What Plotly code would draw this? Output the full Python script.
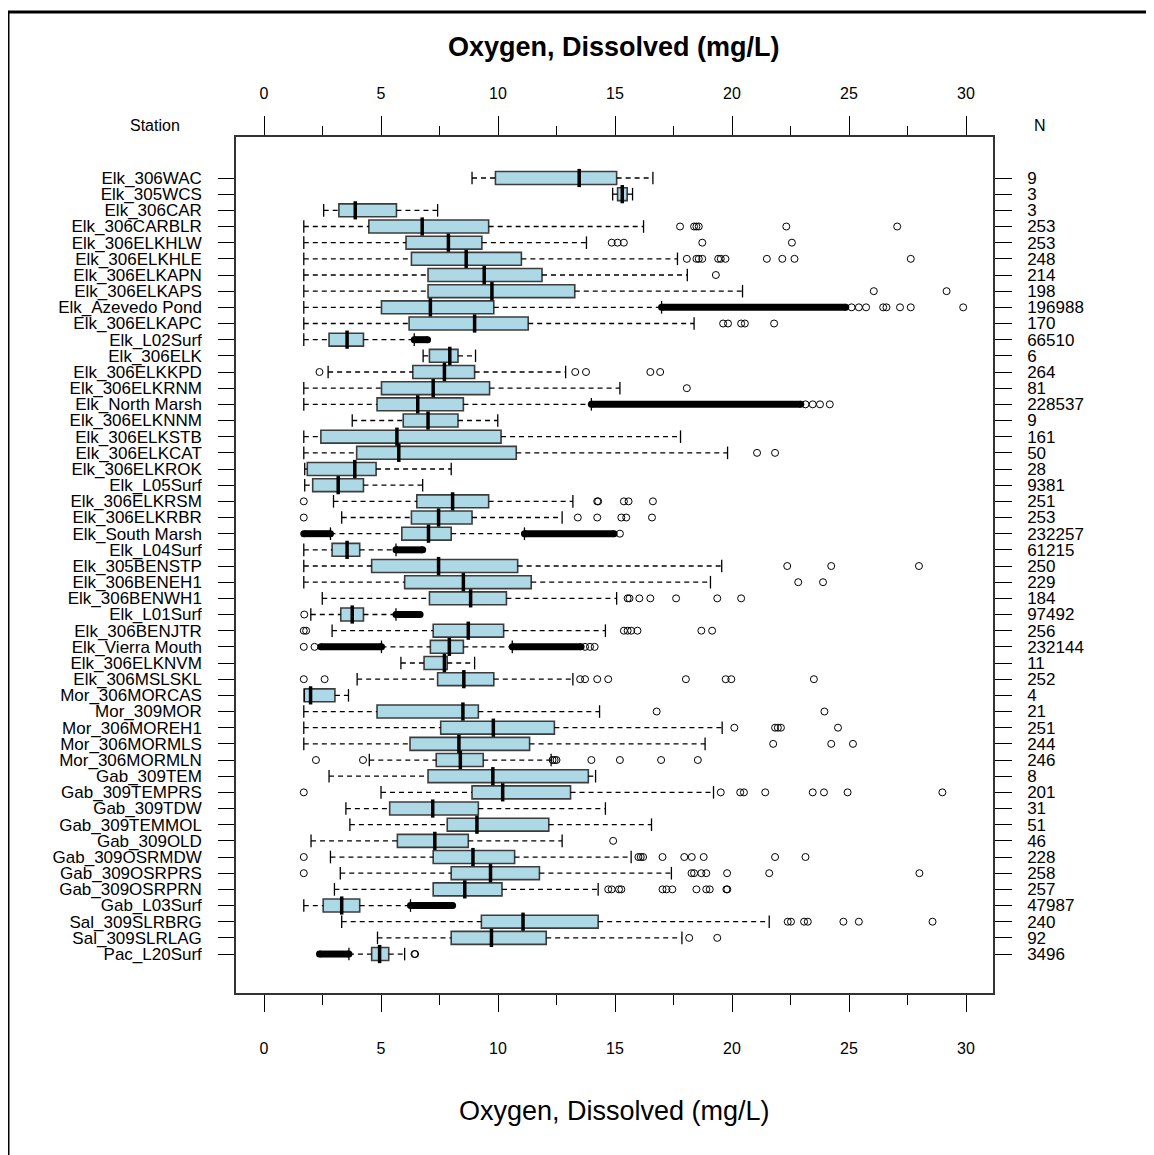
import plotly.graph_objects as go

# ---------------- data ----------------
stations = [
    "Elk_306WAC", "Elk_305WCS", "Elk_306CAR", "Elk_306CARBLR", "Elk_306ELKHLW",
    "Elk_306ELKHLE", "Elk_306ELKAPN", "Elk_306ELKAPS", "Elk_Azevedo Pond", "Elk_306ELKAPC",
    "Elk_L02Surf", "Elk_306ELK", "Elk_306ELKKPD", "Elk_306ELKRNM", "Elk_North Marsh",
    "Elk_306ELKNNM", "Elk_306ELKSTB", "Elk_306ELKCAT", "Elk_306ELKROK", "Elk_L05Surf",
    "Elk_306ELKRSM", "Elk_306ELKRBR", "Elk_South Marsh", "Elk_L04Surf", "Elk_305BENSTP",
    "Elk_306BENEH1", "Elk_306BENWH1", "Elk_L01Surf", "Elk_306BENJTR", "Elk_Vierra Mouth",
    "Elk_306ELKNVM", "Elk_306MSLSKL", "Mor_306MORCAS", "Mor_309MOR", "Mor_306MOREH1",
    "Mor_306MORMLS", "Mor_306MORMLN", "Gab_309TEM", "Gab_309TEMPRS", "Gab_309TDW",
    "Gab_309TEMMOL", "Gab_309OLD", "Gab_309OSRMDW", "Gab_309OSRPRS", "Gab_309OSRPRN",
    "Gab_L03Surf", "Sal_309SLRBRG", "Sal_309SLRLAG", "Pac_L20Surf",
]

n_obs = [9, 3, 3, 253, 253, 248, 214, 198, 196988, 170,
         66510, 6, 264, 81, 228537, 9, 161, 50, 28, 9381,
         251, 253, 232257, 61215, 250, 229, 184, 97492, 256, 232144,
         11, 252, 4, 21, 251, 244, 246, 8, 201, 31,
         51, 46, 228, 258, 257, 47987, 240, 92, 3496]

lower_whisker = [8.89, 14.90, 2.55, 1.70, 1.70, 1.70, 1.70, 1.70, 1.70, 1.70,
                 1.70, 6.80, 2.74, 1.70, 1.70, 3.77, 1.70, 1.70, 1.74, 1.74,
                 2.97, 3.32, 2.84, 1.70, 1.70, 1.70, 2.49, 2.00, 2.91, 5.02,
                 5.85, 3.98, 1.72, 1.70, 1.70, 1.70, 4.50, 2.78, 5.00, 3.50,
                 3.67, 2.01, 2.84, 3.26, 3.01, 1.70, 3.32, 4.85, 3.63]

q1 = [9.89, 15.11, 3.20, 4.48, 6.07, 6.30, 7.01, 7.01, 5.02, 6.20,
      2.78, 7.07, 6.36, 5.02, 4.83, 5.95, 2.43, 3.96, 1.85, 2.08,
      6.53, 6.30, 5.89, 2.91, 4.60, 6.01, 7.07, 3.28, 7.23, 7.11,
      6.84, 7.42, 1.72, 4.83, 7.55, 6.24, 7.36, 7.01, 8.89, 5.37,
      7.83, 5.70, 7.23, 8.00, 7.23, 2.53, 9.29, 8.00, 4.60]

median = [13.47, 15.31, 3.90, 6.76, 7.88, 8.64, 9.41, 9.74, 7.11, 9.00,
          3.55, 7.94, 7.71, 7.23, 6.57, 7.01, 5.68, 5.76, 3.88, 3.17,
          8.06, 7.46, 7.03, 3.55, 7.46, 8.52, 8.83, 3.77, 8.73, 7.92,
          7.71, 8.54, 1.99, 8.50, 9.80, 8.33, 8.39, 9.78, 10.20, 7.21,
          9.10, 7.30, 8.93, 9.68, 8.58, 3.32, 11.07, 9.72, 4.94]

q3 = [15.07, 15.52, 5.66, 9.60, 9.31, 11.00, 11.88, 13.28, 9.82, 11.29,
      4.25, 8.29, 9.00, 9.64, 8.52, 8.29, 10.13, 10.78, 4.79, 4.25,
      9.60, 8.89, 8.00, 4.09, 10.84, 11.42, 10.36, 4.25, 10.24, 8.52,
      7.83, 9.82, 3.03, 9.16, 12.41, 11.35, 9.37, 13.86, 13.10, 9.16,
      12.17, 8.73, 10.71, 11.77, 10.17, 4.09, 14.28, 12.06, 5.33]

upper_whisker = [16.62, 15.75, 7.42, 16.22, 13.78, 17.67, 18.09, 20.45, 16.99, 18.38,
                 6.42, 9.04, 12.89, 15.21, 13.99, 9.99, 17.80, 19.81, 8.00, 6.78,
                 13.20, 12.74, 11.13, 5.64, 19.56, 19.08, 15.07, 5.64, 14.59, 10.61,
                 9.00, 13.20, 3.61, 14.34, 19.58, 18.85, 12.27, 14.17, 19.21, 14.59,
                 16.56, 12.74, 15.69, 17.41, 14.28, 6.26, 21.59, 17.86, 6.01]

# individual outliers, one list per station (same order as stations)
outliers = [
    [], [], [],
    [17.78, 18.38, 18.48, 18.58, 22.32, 27.06],
    [14.86, 15.11, 15.38, 18.73, 22.56],
    [18.07, 18.48, 18.58, 18.73, 19.41, 19.52, 19.72, 21.49, 22.15, 22.67, 27.64],
    [19.31],
    [26.06, 29.17],
    [25.11, 25.42, 25.73, 26.46, 26.60, 27.18, 27.64, 29.88],
    [19.62, 19.83, 20.39, 20.55, 21.80],
    [],
    [],
    [2.37, 13.30, 13.76, 16.51, 16.93],
    [18.07],
    [23.14, 23.45, 23.76, 24.18],
    [],
    [],
    [21.07, 21.84],
    [],
    [],
    [1.70, 14.24, 14.28, 15.38, 15.58, 16.62],
    [1.70, 13.41, 14.24, 15.27, 15.48, 16.58],
    [15.21],
    [],
    [22.36, 24.24, 27.99],
    [22.83, 23.89],
    [15.54, 15.62, 16.04, 16.51, 17.61, 19.37, 20.39],
    [1.72],
    [1.70, 1.80, 15.38, 15.54, 15.69, 15.96, 18.69, 19.15],
    [1.70, 2.16, 13.72, 13.93, 14.13],
    [],
    [1.70, 2.59, 13.51, 13.72, 14.24, 14.71, 18.03, 19.73, 19.97, 23.50],
    [],
    [16.78, 23.95],
    [20.10, 21.84, 21.96, 22.09, 24.53],
    [21.76, 24.24, 25.17],
    [2.22, 4.23, 12.33, 12.42, 12.50, 13.99, 15.21, 16.97, 18.54],
    [],
    [1.70, 19.52, 20.35, 20.51, 21.42, 23.45, 23.93, 24.94, 28.99],
    [],
    [],
    [14.92],
    [1.70, 16.00, 16.10, 16.20, 17.03, 17.96, 18.28, 18.79, 21.84, 23.14],
    [1.70, 18.27, 18.38, 18.69, 18.90, 19.79, 21.59, 28.01],
    [14.71, 14.86, 15.17, 15.27, 17.03, 17.20, 17.45, 18.48, 18.90, 19.05, 19.76, 19.80],
    [],
    [22.38, 22.52, 23.08, 23.24, 24.76, 25.42, 28.57],
    [18.17, 19.37],
    [6.43, 6.46],
]

# ranges so densely packed with outliers that they read as a solid band
dense_bands = [
    [], [], [], [], [], [], [], [],
    [(16.99, 24.86)],
    [],
    [(6.42, 6.99)],
    [], [], [],
    [(13.99, 22.94)],
    [], [], [], [], [], [], [],
    [(1.70, 2.84), (11.13, 14.96)],
    [(5.64, 6.78)],
    [], [], [],
    [(5.64, 6.67)],
    [],
    [(2.43, 5.02), (10.61, 13.55)],
    [], [], [], [], [], [], [], [], [], [], [], [], [], [], [],
    [(6.26, 8.06)],
    [], [],
    [(2.37, 3.63)],
]

x_ticks = [0, 5, 10, 15, 20, 25, 30]
minor_ticks = [2.5, 7.5, 12.5, 17.5, 22.5, 27.5]
title_text = "Oxygen, Dissolved (mg/L)"

# ---------------- figure ----------------
W, H = 1154, 1155
OFF = 8  # page body margin offset
FONT = "Liberation Sans, Arial, Helvetica, sans-serif"
pos = list(range(len(stations)))


def px(xp):
    return (xp - OFF) / W


def py(yp):
    return 1 - (yp - OFF) / H


# plot area in (target) pixels
PX_L, PX_R, PX_T, PX_B = 236, 993, 137, 993
x_range = [-1.197, 31.154]
y_range = [50.41, -2.536]

fig = go.Figure()

# dashed whiskers
wx, wy = [], []
for i in pos:
    wx += [lower_whisker[i], q1[i], None, q3[i], upper_whisker[i], None]
    wy += [i, i, None, i, i, None]
fig.add_trace(go.Scatter(x=wx, y=wy, mode="lines",
                         line=dict(color="black", width=1.3, dash="5px,4px"),
                         hoverinfo="skip", showlegend=False))

# whisker caps
fig.add_trace(go.Scatter(x=lower_whisker + upper_whisker, y=pos + pos, mode="markers",
                         marker=dict(symbol="line-ns", size=9,
                                     line=dict(color="black", width=1.3)),
                         hoverinfo="skip", showlegend=False))

# boxes
fig.add_trace(go.Box(y=pos, q1=q1, median=median, q3=q3,
                     lowerfence=q1, upperfence=q3,
                     orientation="h", width=0.8, whiskerwidth=0,
                     fillcolor="#ADD8E6", line=dict(color="#3c3c3c", width=1.6),
                     boxpoints=False, hoverinfo="skip", showlegend=False))

# medians
fig.add_trace(go.Scatter(x=median, y=pos, mode="markers",
                         marker=dict(symbol="line-ns", size=13,
                                     line=dict(color="black", width=3.5)),
                         hoverinfo="skip", showlegend=False))

# dense outlier bands
bx, by, ex, ey = [], [], [], []
for i in pos:
    for (a, b) in dense_bands[i]:
        bx += [a, b, None]
        by += [i, i, None]
        ex += [a, b]
        ey += [i, i]
fig.add_trace(go.Scatter(x=bx, y=by, mode="lines",
                         line=dict(color="black", width=7),
                         hoverinfo="skip", showlegend=False))
fig.add_trace(go.Scatter(x=ex, y=ey, mode="markers",
                         marker=dict(symbol="circle", size=7, color="black"),
                         hoverinfo="skip", showlegend=False))

# individual outliers
ox, oy = [], []
for i in pos:
    for v in outliers[i]:
        ox.append(v)
        oy.append(i)
fig.add_trace(go.Scatter(x=ox, y=oy, mode="markers",
                         marker=dict(symbol="circle-open", size=7, color="black",
                                     line=dict(color="black", width=1)),
                         hoverinfo="skip", showlegend=False))

# dummy trace for secondary axes
fig.add_trace(go.Scatter(x=[None], y=[None], xaxis="x2", yaxis="y2",
                         showlegend=False, hoverinfo="skip"))

xdom = [px(PX_L), px(PX_R)]
ydom = [py(PX_B), py(PX_T)]

common_x = dict(range=x_range, tickmode="array", tickvals=x_ticks,
                ticktext=[str(t) for t in x_ticks],
                ticks="outside", tickwidth=1, tickcolor="black",
                showline=True, linecolor="#333333", linewidth=1.5,
                showgrid=False, zeroline=False, fixedrange=True,
                tickfont=dict(family=FONT, size=16, color="black"))

fig.update_layout(
    width=W, height=H, autosize=False,
    margin=dict(l=0, r=0, t=0, b=0, pad=0),
    paper_bgcolor="white", plot_bgcolor="white",
    showlegend=False,
    font=dict(family=FONT, size=16, color="black"),
    xaxis=dict(domain=xdom, anchor="y", side="bottom", ticklen=17,
               ticklabelstandoff=23,
               minor=dict(ticks="outside", ticklen=10, tickmode="array",
                          tickvals=minor_ticks,
                          tickcolor="black", tickwidth=1, showgrid=False),
               **common_x),
    xaxis2=dict(domain=xdom, anchor="y", overlaying="x", side="top", ticklen=19,
                ticklabelstandoff=11,
                minor=dict(ticks="outside", ticklen=9, tickmode="array",
                           tickvals=minor_ticks,
                           tickcolor="black", tickwidth=1, showgrid=False),
                **common_x),
    yaxis=dict(domain=ydom, anchor="x", range=y_range, tickmode="array",
               tickvals=pos, ticktext=stations, ticks="outside", ticklen=16,
               tickwidth=1, tickcolor="black", ticklabelstandoff=13,
               showline=True, linecolor="#333333", linewidth=1.5,
               showgrid=False, zeroline=False, fixedrange=True,
               tickfont=dict(family=FONT, size=17, color="black")),
    yaxis2=dict(domain=ydom, anchor="x", overlaying="y", side="right",
                range=y_range, tickmode="array", tickvals=pos,
                ticktext=[str(n) for n in n_obs], ticks="outside", ticklen=17,
                tickwidth=1, tickcolor="black", ticklabelstandoff=12,
                showline=True, linecolor="#333333", linewidth=1.5,
                showgrid=False, zeroline=False, fixedrange=True,
                tickfont=dict(family=FONT, size=17, color="black")),
    annotations=[
        dict(text="<b>" + title_text + "</b>", x=px(614), y=py(47),
             xref="paper", yref="paper", xanchor="center", yanchor="middle",
             showarrow=False, font=dict(family=FONT, size=27, color="black")),
        dict(text=title_text, x=px(614), y=py(1111),
             xref="paper", yref="paper", xanchor="center", yanchor="middle",
             showarrow=False, font=dict(family=FONT, size=27, color="black")),
        dict(text="Station", x=px(155), y=py(125),
             xref="paper", yref="paper", xanchor="center", yanchor="middle",
             showarrow=False, font=dict(family=FONT, size=16, color="black")),
        dict(text="N", x=px(1040), y=py(125),
             xref="paper", yref="paper", xanchor="center", yanchor="middle",
             showarrow=False, font=dict(family=FONT, size=16, color="black")),
    ],
    shapes=[
        dict(type="line", xref="paper", yref="paper",
             x0=0, x1=1, y0=py(12), y1=py(12),
             line=dict(color="black", width=3)),
        dict(type="line", xref="paper", yref="paper",
             x0=0, x1=0, y0=0, y1=py(12),
             line=dict(color="black", width=3)),
    ],
)

fig.write_html("out.html")
